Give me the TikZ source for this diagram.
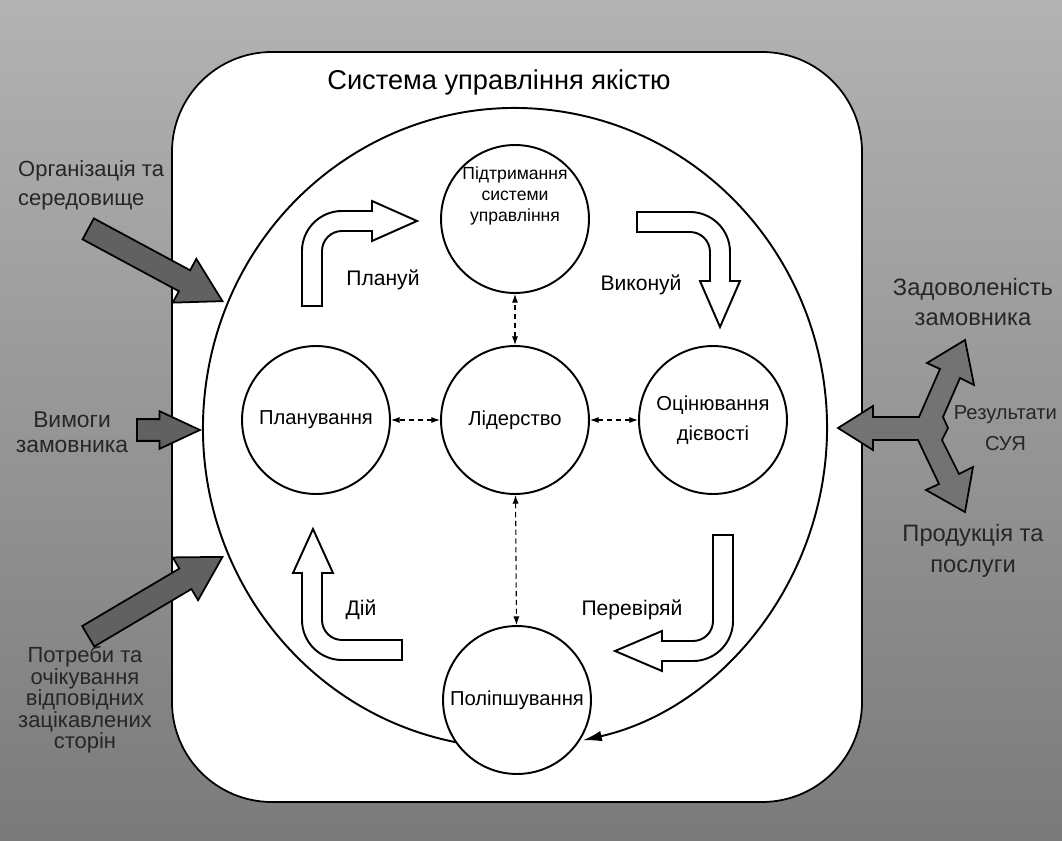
\documentclass[tikz,border=0pt]{standalone}
\usepackage{fontspec}
\setmainfont{Liberation Sans}
\usetikzlibrary{arrows.meta,shapes.arrows}

\begin{document}
\begin{tikzpicture}[x=0.02cm,y=-0.02cm,
        stage/.style={circle,draw,line width=1.1pt,fill=white,minimum size=2.96cm,
            inner sep=0pt,align=center,font=\fontsize{11.5}{17}\selectfont},
        link/.style={densely dashed,line width=0.6pt,
            {Latex[length=5pt,width=3.5pt]}-{Latex[length=5pt,width=3.5pt]}},
        turn/.style={draw,line width=1.1pt,fill=white},
        feed/.style={single arrow,draw=black,line width=1pt,fill=black!62,
            inner xsep=0pt,inner ysep=0.22cm,single arrow head extend=0.26cm,
            single arrow tip angle=60},
        outfig/.style={draw=black,line width=1pt,fill=black!55},
        side/.style={text=black!85,align=center},
        word/.style={font=\fontsize{12}{14}\selectfont}]
        \useasboundingbox (0,0) rectangle (1062,841);
        \shade[top color=black!30,bottom color=black!52] (0,0) rectangle (1062,841);
        \draw[line width=1pt,fill=white,rounded corners=2cm] (172,52) rectangle (862,802);
        \node[font=\fontsize{15.5}{18}\selectfont] (title) at (499,82) {Система управління якістю};

        % big cycle, ends in the improvement circle
        \coordinate (sys) at (515,428);
        \draw[line width=1.1pt,-{Latex[length=11pt,width=6pt]}] (sys) ++(100:312 and 320)
            arc[start angle=100,end angle=437.5,x radius=312,y radius=320];

        \node[stage] (leader) at (515,420) {Лідерство};
        \node[stage] (keep) at (515,219) {};
        \node[font=\fontsize{10}{11.8}\selectfont,align=center] (keeptext) at (515,196)
            {Підтримання\\системи\\управління};
        \node[stage] (plan) at (316,420) {Планування};
        \node[stage] (eval) at (713,420) {Оцінювання\\дієвості};
        \node[stage] (improve) at (517,700) {Поліпшування};

        \draw[link] (leader) -- (keep);
        \draw[link] (leader) -- (plan);
        \draw[link] (leader) -- (eval);
        \draw[link] (leader) -- (improve);

        % hollow turning arrows
        \draw[turn] (302,306) -- (302,251) arc[start angle=180,end angle=270,radius=40]
            -- (372,211) -- (372,201) -- (417,221) -- (372,241) -- (372,231) -- (342,231)
            arc[start angle=270,end angle=180,radius=20] -- (322,306) -- cycle;
        \draw[turn] (637,212) -- (690,212) arc[start angle=270,end angle=360,radius=40]
            -- (730,281) -- (740,281) -- (720,327) -- (700,281) -- (710,281) -- (710,252)
            arc[start angle=0,end angle=-90,radius=20] -- (637,232) -- cycle;
        \draw[turn] (713,535) -- (733,535) -- (733,621) arc[start angle=0,end angle=90,radius=40]
            -- (662,661) -- (662,671) -- (615,651) -- (662,631) -- (662,641) -- (693,641)
            arc[start angle=90,end angle=0,radius=20] -- cycle;
        \draw[turn] (313,529) -- (333,573) -- (322,573) -- (322,620)
            arc[start angle=180,end angle=90,radius=20] -- (402,640) -- (402,660) -- (342,660)
            arc[start angle=90,end angle=180,radius=40] -- (302,573) -- (293,573) -- cycle;
        \node[word] (planlbl) at (383,280) {Плануй};
        \node[word] (dolbl) at (641,285) {Виконуй};
        \node[word] (checklbl) at (632,610) {Перевіряй};
        \node[word] (actlbl) at (361,610) {Дій};

        % inputs
        \node[side,align=left,anchor=west,font=\fontsize{12.5}{16.5}\selectfont] (orgtxt)
            at (12,185) {Організація та\\середовище};
        \node[feed,rotate=-28.3,anchor=tip,minimum height=3.05cm] (orgarr) at (224,302) {};
        \node[side,font=\fontsize{13}{14.5}\selectfont] (reqtxt) at (72,432) {Вимоги\\замовника};
        \node[feed,anchor=tip,minimum height=1.26cm,inner ysep=0.2cm,
            single arrow head extend=0.16cm,single arrow tip angle=50] (reqarr) at (202,430) {};
        \node[side,font=\fontsize{12.5}{12.2}\selectfont] (needtxt) at (85,700)
            {Потреби та\\очікування\\відповідних\\зацікавлених\\сторін};
        \node[feed,rotate=30.6,anchor=tip,minimum height=3.12cm] (needarr) at (224,556) {};

        % outputs: one three-way block arrow
        \draw[outfig] (838,428) -- (873,406) -- (873,417) -- (919,417) -- (940,369) -- (927,363)
            -- (965,340) -- (974,385) -- (960,378) -- (943,417) -- (948,428) -- (942,440)
            -- (959,474) -- (973,467) -- (965,512) -- (926,490) -- (939,484) -- (918,440)
            -- (873,440) -- (873,450) -- cycle;
        \node[side,font=\fontsize{13.5}{17.5}\selectfont] (sattxt) at (973,302) {Задоволеність\\замовника};
        \node[side,anchor=west,inner sep=2pt,font=\fontsize{11.5}{17.5}\selectfont] (restxt)
            at (950,428) {Результати\\СУЯ};
        \node[side,font=\fontsize{13.5}{17.5}\selectfont] (prodtxt) at (973,551) {Продукція та\\послуги};
    \end{tikzpicture}
\end{document}
